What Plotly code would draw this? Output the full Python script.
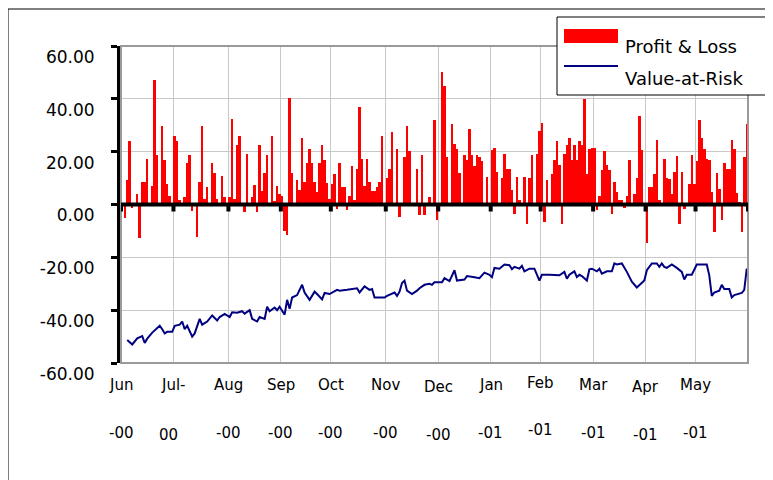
import plotly.graph_objects as go

# ---------------- data ----------------
month_top = ["Jun", "Jul-", "Aug", "Sep", "Oct", "Nov", "Dec", "Jan", "Feb", "Mar", "Apr", "May"]
month_bottom = ["-00", "00", "-00", "-00", "-00", "-00", "-00", "-01", "-01", "-01", "-01", "-01"]

pnl_jun = [0.5, -5, 9.4, 24, -1.5, 0.5, 4, -12.5, 8.5, 8.5, 17.3, 0.5, 7, 47, 18.6, 0.5, 29.6, 16.7, 7.8, 3.4, 0.5]
pnl_jul = [26, 24, 1.8, 0.5, 2.8, 15.8, 18.9, -2.3, 0.5, -12.4, 8.5, 29.6, 2, 6.5, 0.5, 15.8, 12, 2, 0.5, 10.8, 3, 0.5]
pnl_aug = [2.8, 32.5, 2, 22.4, 26, 0.5, -3, 19, 0.5, 2.8, 7.2, -3, 22.4, 5, 12, 18.6, 0.5, 26, 1.3, 7, 4]
pnl_sep = [3.4, -10, -11.4, 40.5, 12, 0.5, 9.4, 5.6, 25.3, 8.5, 15.8, 20.9, 15.8, 8.5, 4.7, 15.8, 22.4, 16.7, 8, 2]
pnl_oct = [7.8, 11.4, -1.6, 15.8, 6.6, 6.6, -2, 3.4, 14.4, 1.8, 13.5, 37, 17.3, 7, 17.3, 8.5, 5, 5, 6.6, 8.5, 26, 0.5]
pnl_nov = [10, 13.5, 27.3, 0.5, 20.9, -4.8, 0.5, 18, 29.6, 20.3, 0.5, 0.5, 13.5, -3.8, 18.9, -3.8, 0.5, 2.8, 0.5, 32, -5.8]
pnl_dec = [0.5, 50, 44.8, 18, 0.5, 30.3, 23, 21, 12, 0.5, 18.9, 16.7, 28.7, 18.9, 14.4, 18.9, 18, 16.5, 0.5, 10.6, 0.5]
pnl_jan = [20.5, 21.5, 12.3, 0.5, 10, 19.2, 13.5, 13.5, 5.6, -3.5, 10.6, 1.8, 0.5, 10.6, -7.3, 10, 18.9, 0.5, 19.2, 28]
pnl_feb = [31, -6.7, 9.4, 0.5, 11.4, 16.7, 24, 15, -7.3, 19.2, 22.4, 25.3, 16.7, 22.4, 16.7, 24, 22.4, 40, 11.6, 21, 21.5]
pnl_mar = [21.5, -2, 3.4, 13, 20.3, 15, 13, -3.5, 8.5, 4.7, 1.8, 1.8, -1.4, 3.4, 16.7, 0.5, 4, 10, 33.5, 20.5, 0.5]
pnl_apr = [-14.5, 6.6, 6.6, 11.6, 24.5, 1.8, 0.5, 17.3, 10, 9.7, 4, 12.3, 18.2, -7.3, 12.3, -1.6, 0.5, 7.8, 18.9, 7.8]
pnl_may = [16.5, 32, 25.3, 21, 17.3, 16.7, 4.7, -10.3, 12, 5.7, -5.7, 15.8, 13.5, 13.5, 24.5, 20.9, 4.3, 1.1, -10.3, 18, 30.4]

var_day = [2, 4, 6, 8, 9, 10, 12, 13, 15, 16, 17, 18, 20, 21, 23, 24, 25, 26, 28, 29, 30, 31, 32, 34, 36, 38, 39,
           41, 43, 44, 46, 48, 49, 51, 52, 54, 55, 57, 58, 59, 61, 62, 63, 65, 66, 67, 68, 70, 72, 73, 75, 77, 78,
           80, 81, 83, 86, 87, 90, 94, 95, 97, 99, 100, 101, 105, 106, 109, 110, 111, 112, 113, 114, 116, 118,
           119, 121, 123, 124, 125, 127, 128, 129, 131, 133, 134, 137, 138, 141, 143, 145, 147, 148, 149, 151,
           153, 155, 156, 157, 159, 160, 161, 163, 165, 167, 168, 171, 175, 177, 178, 179, 181, 182, 183, 184,
           186, 187, 188, 190, 191, 192, 194, 196, 197, 198, 200, 202, 204, 206, 208, 209, 210, 212, 214, 215,
           216, 217, 218, 220, 222, 224, 225, 226, 228, 230, 234, 235, 236, 237, 239, 240, 241, 243, 244, 245,
           248, 249, 250]
var_value = [-51.3, -53, -50.7, -49.8, -52.4, -50.8, -48.5, -47.5, -45.9, -47.2, -48.8, -48.2, -48.2, -45.9,
             -45.5, -44.3, -47.2, -45.9, -50, -48.8, -46.2, -43.3, -45.5, -44.3, -42, -43.9, -42.6,
             -41.4, -42.6, -40.8, -41, -40.4, -41.3, -40, -43.3, -44.3, -42.6, -43.3, -38.7, -40.4, -39, -40,
             -38.7, -41.7, -36.1, -39.5, -35.2, -34.3, -30.4, -33.3, -36.1, -33, -33.9,
             -35.9, -33.5, -33.9, -32.3, -32.6, -32.3, -31.7, -33.3, -31, -32.3, -32, -35.2, -35.2, -34.6, -33.3,
             -34.6, -33, -29.7, -28.8, -32.6, -33.9, -32.6,
             -31.7, -30.4, -30, -30.4, -29.4, -29.4, -29.4, -27.9, -29, -24.9, -28.8, -28.4, -27.1, -27.5, -27.9,
             -25.8, -26.6, -27.5, -24, -24.3,
             -22.7, -23, -24.5, -23.6, -24.3, -23.2, -25.3, -24.3, -24.3, -28.8, -26.6, -26.6, -26.8, -25.5,
             -28.1, -26.6, -25.3, -27.5, -26.6, -27.1,
             -28.8, -24.5, -24.3, -25.3, -24.3, -26.2, -25.3, -25.3, -22.3, -22.7, -22.3, -25.5, -29.2, -31.4,
             -29.4, -28.8, -24.9, -22.3, -22.3, -23.6,
             -22.3, -23.6, -24, -22.7, -24, -25.5, -28.4, -26.6, -26.6, -22.7, -22.7, -26.8, -34.6, -33.3, -32.6,
             -30.4, -32, -32, -35.2, -34.3,
             -33.5, -32.3, -24.3]

y_ticks = [-60, -40, -20, 0, 20, 40, 60]

# ---------------- layout helpers (page pixels; the page body has an 8px offset) ----------------
OFF = 8
W, H = 773, 480
PL, PR, PT, PB = 121, 748, 46, 363          # plot area in page pixels
ML, MT = PL - OFF, PT - OFF
MR = W - (PR - OFF)
MB = H - (PB - OFF)
FONT = "DejaVu Sans"


def fx(p):
    return (p - PL) / (PR - PL)


def fy(p):
    return (PB - p) / (PB - PT)


pnl_months = [pnl_jun, pnl_jul, pnl_aug, pnl_sep, pnl_oct, pnl_nov,
              pnl_dec, pnl_jan, pnl_feb, pnl_mar, pnl_apr, pnl_may]
pnl = [v for m in pnl_months for v in m]
day = list(range(len(pnl)))
starts = []
c = 0
for m in pnl_months:
    starts.append(c - 0.5)
    c += len(m)
bounds = starts + [c - 0.5]

fig = go.Figure()
fig.add_bar(x=day, y=pnl, name="Profit & Loss", showlegend=False,
            marker=dict(color="#FF0000", line=dict(width=0)))
fig.add_scatter(x=var_day, y=var_value, mode="lines", name="Value-at-Risk", showlegend=False,
                line=dict(color="#000080", width=2))

shapes = []
# chart-area border
shapes.append(dict(type="rect", xref="paper", yref="paper", x0=fx(8), x1=fx(820), y0=fy(520), y1=fy(9),
                   line=dict(color="black", width=1), layer="below"))
# plot-area border (grey)
shapes.append(dict(type="rect", xref="paper", yref="paper", x0=0, x1=1, y0=0, y1=1,
                   line=dict(color="#9a9a9a", width=2), layer="above"))
# zero axis line
shapes.append(dict(type="line", xref="paper", yref="y", x0=0, x1=1, y0=0, y1=0,
                   line=dict(color="black", width=4), layer="above"))
# tick marks on zero line
for b in bounds:
    shapes.append(dict(type="line", xref="x", yref="y", x0=b, x1=b, ysizemode="pixel", yanchor=0,
                       y0=0, y1=-7, line=dict(color="black", width=4), layer="above"))
# legend
shapes.append(dict(type="rect", xref="paper", yref="paper", x0=fx(557), x1=fx(820), y0=fy(95), y1=fy(17),
                   line=dict(color="black", width=1), fillcolor="white", layer="above"))
shapes.append(dict(type="rect", xref="paper", yref="paper", x0=fx(564), x1=fx(618), y0=fy(43), y1=fy(29),
                   line=dict(width=0), fillcolor="#FF0000", layer="above"))
shapes.append(dict(type="line", xref="paper", yref="paper", x0=fx(564), x1=fx(618), y0=fy(66), y1=fy(66),
                   line=dict(color="#000080", width=2), layer="above"))

annotations = []
annotations.append(dict(xref="paper", yref="paper", x=fx(623), y=fy(47), xanchor="left", yanchor="middle",
                        text=fig.data[0].name, showarrow=False, font=dict(family=FONT, size=18, color="black")))
annotations.append(dict(xref="paper", yref="paper", x=fx(623), y=fy(78), xanchor="left", yanchor="middle",
                        text=fig.data[1].name, showarrow=False, font=dict(family=FONT, size=18, color="black")))

top_dy = [0, 0, 0, 0, 0, 0, 2, 0, -2, 0, 2, 0]
bot_dy = [0, 2, 0, 0, 0, 0, 2, 0, -3, 0, 2, 0]
bot_dx = [0, -5, 0, 0, 0, 0, 0, 0, 0, 0, 0, 0]
for i, b in enumerate(starts):
    annotations.append(dict(xref="x", yref="paper", x=b, y=0, yshift=-(385 - PB) - top_dy[i],
                            xanchor="center", yanchor="middle", text=month_top[i], showarrow=False,
                            font=dict(family=FONT, size=15, color="black")))
    annotations.append(dict(xref="x", yref="paper", x=b, y=0, yshift=-(433 - PB) - bot_dy[i],
                            xshift=bot_dx[i], xanchor="center", yanchor="middle", text=month_bottom[i],
                            showarrow=False, font=dict(family=FONT, size=15, color="black")))

fig.update_layout(
    width=W, height=H,
    margin=dict(l=ML, r=MR, t=MT, b=MB, pad=0),
    paper_bgcolor="white", plot_bgcolor="white",
    bargap=0.0,
    shapes=shapes, annotations=annotations,
    showlegend=False,
    xaxis=dict(range=[-0.5, c - 0.5], tickvals=bounds, showticklabels=False, ticks="",
               showgrid=True, gridcolor="#c8c8c8", gridwidth=1, zeroline=False, showline=False),
    yaxis=dict(range=[-60, 60], tickvals=y_ticks, ticktext=[f"{v:.2f}" for v in y_ticks],
               showgrid=True, gridcolor="#c8c8c8",
               gridwidth=1, zeroline=False, showline=True, linecolor="black", linewidth=4,
               ticks="outside", ticklen=6, tickwidth=3, tickcolor="black", layer="above traces",
               ticklabelshift=11, ticklabelstandoff=13,
               tickfont=dict(family=FONT, size=17, color="black")),
)

fig.write_html("out.html")
